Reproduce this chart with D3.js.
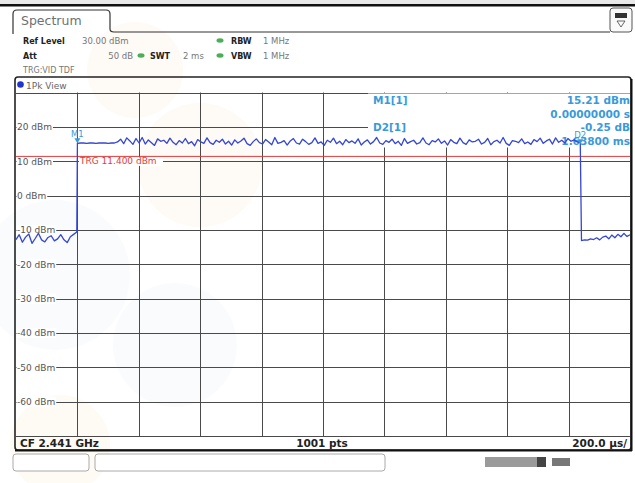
<!DOCTYPE html>
<html>
<head>
<meta charset="UTF-8">
<script src="https://d3js.org/d3.v7.min.js"></script>
<style>
 body { margin: 0; background: #fff; }
 svg text { font-family: "DejaVu Sans", sans-serif; }
 .mono { font-family: "DejaVu Sans Mono", monospace; font-weight: bold; }
</style>
</head>
<body>
<svg class="chart"></svg>
<script>

// level axis (dBm) and the grid labels
var refLevel = 30, bottomLevel = -70;
var yTicks = [20, 10, 0, -10, -20, -30, -40, -50, -60];
// time axis in microseconds, 200 us / div, trigger at 0
var timeStart = -200, timeEnd = 1800;

// trace, in dBm
var preTrigDbm = [-12.8, -11.4, -13.6, -12.1, -11.2, -13.9, -12.5, -11.0, -12.9, -13.5,
                  -12.2, -11.7, -13.2, -12.6, -11.4, -12.9, -13.7, -12.0, -11.3, -10.6];
var burstDbm = [15.2, 15.3, 15.3, 15.2, 15.3, 15.3, 15.2, 15.3, 15.3, 15.3, 15.2, 15.3, 15.3,
                15.6, 16.4, 15.1, 16.8, 15.9, 14.9, 16.6, 15.3, 16.9, 15.0, 16.2, 15.4, 14.6, 16.5, 15.8, 16.1, 15.2, 16.7,
                15.5, 14.8, 16.0, 15.3, 16.6, 15.1, 15.7, 14.5, 16.3, 15.6, 15.2, 16.8, 15.4, 14.9, 16.1, 15.5, 16.4, 15.0, 15.8, 14.7,
                16.2, 15.3, 15.9, 16.7, 15.1, 14.6, 15.7, 16.5, 15.4, 15.0, 16.3, 15.6, 14.8, 16.9, 15.2, 15.5, 16.0, 14.7, 15.9, 16.6,
                15.3, 15.0, 16.4, 15.7, 14.9, 15.4, 16.8, 15.2, 15.6, 14.6, 16.1, 15.5, 16.7, 15.1, 15.8, 14.8, 16.3, 15.4, 15.9, 15.2,
                16.5, 14.7, 15.6, 16.2, 15.0, 15.7, 16.9, 15.3, 14.9, 16.0, 15.5, 16.4, 15.1, 15.8, 14.6, 16.6, 15.2, 15.7, 16.1, 15.0,
                15.4, 16.8, 15.3, 14.8, 16.0, 15.6, 16.5, 15.2, 15.9, 14.7, 16.3, 15.5, 15.1, 16.7, 15.4, 14.9, 16.2, 15.6, 15.8, 16.4,
                15.0, 15.5, 16.6, 14.8, 15.7, 16.1, 15.3, 16.9, 15.2, 14.6, 16.0, 15.8, 15.4, 16.5, 15.1, 15.6, 14.9, 16.3, 15.7, 16.7,
                15.2, 15.9, 16.4, 15.0, 16.8, 15.5, 16.1, 15.3, 16.6, 15.8, 16.2, 15.6, 15.4];
var postDbm = [-13.1, -12.9, -13.0, -12.6, -12.8, -12.3, -12.9, -12.1, -11.8, -12.6,
               -11.5, -12.3, -11.3, -12.0, -11.0, -11.9, -11.4];
// segment spans (us)
var preSpan = [-200, -2], burstSpan = [0, 1638], postSpan = [1642, 1800];

// markers and trigger
var trgLevel = 11.4;
var m1 = {t: 0, v: 15.21};
var d2 = {t: 1638, v: 15.21 - 0.25};

var width = 635, height = 483;
var svg = d3.select(".chart").attr("width", width).attr("height", height);

var x = d3.scaleLinear().domain([timeStart, timeEnd]).range([16, 630]);
var y = d3.scaleLinear().domain([bottomLevel, refLevel]).range([436, 92.5]);

// top strip
svg.append("rect").attr("x", 0).attr("y", 0).attr("width", width).attr("height", 5).attr("fill", "#e9e9e9");
svg.append("rect").attr("x", 0).attr("y", 4).attr("width", width).attr("height", 2.5).attr("fill", "#111");

// faint watermark blobs behind everything
var blobs = [
  {cx: 200, cy: 165, r: 62, c: "#fbe6cc", o: 0.2},
  {cx: 135, cy: 70, r: 48, c: "#fbe6cc", o: 0.18},
  {cx: 55, cy: 275, r: 75, c: "#dfe3ef", o: 0.14},
  {cx: 175, cy: 345, r: 62, c: "#dfe3ef", o: 0.14},
  {cx: 60, cy: 445, r: 50, c: "#fbe6cc", o: 0.22}
];
svg.append("g").selectAll("circle").data(blobs).enter().append("circle")
   .attr("cx", function(d) { return d.cx; })
   .attr("cy", function(d) { return d.cy; })
   .attr("r", function(d) { return d.r; })
   .attr("fill", function(d) { return d.c; })
   .attr("opacity", function(d) { return d.o; });

// Spectrum tab
svg.append("path")
   .attr("d", "M13,34 L13,14 Q13,10 17,10 L106,10 Q110,10 110,14 L110,29 Q110,32 114,32 L610,32")
   .attr("fill", "none").attr("stroke", "#333").attr("stroke-width", 1.2);
svg.append("text").attr("x", 21).attr("y", 25).attr("font-size", 12.5).attr("fill", "#707070").text("Spectrum");

// small icon top right
svg.append("rect").attr("x", 610).attr("y", 8).attr("width", 22).attr("height", 24).attr("rx", 3)
   .attr("fill", "#fafafa").attr("stroke", "#555").attr("stroke-width", 1);
svg.append("rect").attr("x", 615).attr("y", 13).attr("width", 12).attr("height", 5).attr("fill", "#333");
svg.append("path").attr("d", "M617,21 L625,21 L621,27 Z").attr("fill", "none").attr("stroke", "#444").attr("stroke-width", 0.8);

// header settings
var hdr = svg.append("g").attr("font-size", 8.5);
hdr.append("text").attr("x", 23).attr("y", 43.5).attr("font-weight", "bold").attr("fill", "#222").attr("font-size", 8).text("Ref Level");
hdr.append("text").attr("x", 82).attr("y", 43.5).attr("fill", "#777").text("30.00 dBm");
hdr.append("text").attr("x", 23).attr("y", 58.5).attr("font-weight", "bold").attr("fill", "#222").attr("font-size", 8).text("Att");
hdr.append("text").attr("x", 133).attr("y", 58.5).attr("text-anchor", "end").attr("fill", "#777").text("50 dB");
hdr.append("text").attr("x", 150).attr("y", 58.5).attr("font-weight", "bold").attr("fill", "#222").attr("font-size", 8).text("SWT");
hdr.append("text").attr("x", 183).attr("y", 58.5).attr("fill", "#777").text("2 ms");
hdr.append("text").attr("x", 231).attr("y", 43.5).attr("font-weight", "bold").attr("fill", "#222").attr("font-size", 8).text("RBW");
hdr.append("text").attr("x", 263).attr("y", 43.5).attr("fill", "#777").text("1 MHz");
hdr.append("text").attr("x", 231).attr("y", 58.5).attr("font-weight", "bold").attr("fill", "#222").attr("font-size", 8).text("VBW");
hdr.append("text").attr("x", 263).attr("y", 58.5).attr("fill", "#777").text("1 MHz");
hdr.append("text").attr("x", 23).attr("y", 73).attr("fill", "#777").attr("font-size", 8).text("TRG:VID TDF");
[[141, 55.5], [220, 40.5], [220, 55.5]].forEach(function(p) {
  hdr.append("ellipse").attr("cx", p[0]).attr("cy", p[1]).attr("rx", 3.5).attr("ry", 2.2).attr("fill", "#4cae58");
});

// plot frame
svg.append("rect").attr("x", 15).attr("y", 77).attr("width", 616).attr("height", 373).attr("rx", 3)
   .attr("fill", "none").attr("stroke", "#222").attr("stroke-width", 1.6);
svg.append("line").attr("x1", 631.5).attr("x2", 631.5).attr("y1", 79).attr("y2", 451).attr("stroke", "#111").attr("stroke-width", 2);
svg.append("line").attr("x1", 15).attr("x2", 632).attr("y1", 450.5).attr("y2", 450.5).attr("stroke", "#111").attr("stroke-width", 2);
svg.append("circle").attr("cx", 20.5).attr("cy", 84.5).attr("r", 3.3).attr("fill", "#2233cc");
svg.append("text").attr("x", 26).attr("y", 88.5).attr("font-size", 9).attr("fill", "#666").text("1Pk View");

// grid
var grid = svg.append("g").attr("stroke", "#4a4a4a").attr("stroke-width", 1);
grid.selectAll(".h").data(y.ticks(10)).enter().append("line")
    .attr("x1", x(timeStart)).attr("x2", x(timeEnd))
    .attr("y1", function(d) { return Math.round(y(d)) + 0.5; })
    .attr("y2", function(d) { return Math.round(y(d)) + 0.5; });
grid.selectAll(".v").data(x.ticks(10).filter(function(d) { return d > timeStart && d < timeEnd; })).enter().append("line")
    .attr("y1", y(refLevel)).attr("y2", y(bottomLevel))
    .attr("x1", function(d) { return Math.round(x(d)) + 0.5; })
    .attr("x2", function(d) { return Math.round(x(d)) + 0.5; });

// level labels with white backing
var ylab = svg.append("g").attr("font-size", 9).attr("fill", "#555");
yTicks.forEach(function(v) {
  var t = ylab.append("text").attr("x", 17).attr("y", y(v) + 3.5).text(v + " dBm");
  var w = t.node().getComputedTextLength();
  ylab.insert("rect", "text").attr("x", 16.5).attr("y", y(v) - 5).attr("width", w + 1.5).attr("height", 10).attr("fill", "#fff");
});

// marker info area (hides the grid behind it)
svg.append("rect").attr("x", 368).attr("y", 93.5).attr("width", 262).attr("height", 54).attr("fill", "#fff");
var info = svg.append("g").attr("class", "mono").attr("font-size", 10.5).attr("fill", "#3a9ad9");
info.append("text").attr("x", 373).attr("y", 104).text("M1[1]");
info.append("text").attr("x", 630).attr("y", 104).attr("text-anchor", "end").text(m1.v.toFixed(2) + " dBm");
info.append("text").attr("x", 630).attr("y", 117.5).attr("text-anchor", "end").text((m1.t / 1e6).toFixed(8) + " s");
info.append("text").attr("x", 373).attr("y", 131).text("D2[1]");
info.append("text").attr("x", 630).attr("y", 131).attr("text-anchor", "end").text((d2.v - m1.v).toFixed(2) + " dB");
info.append("text").attr("x", 630).attr("y", 144.5).attr("text-anchor", "end").text(((d2.t - m1.t) / 1000).toFixed(5) + " ms");

// trigger line and label
svg.append("line").attr("x1", x(timeStart)).attr("x2", x(timeEnd))
   .attr("y1", y(trgLevel)).attr("y2", y(trgLevel)).attr("stroke", "#e03c3c").attr("stroke-width", 1);
svg.append("rect").attr("x", 79).attr("y", y(trgLevel) + 1).attr("width", 84).attr("height", 8.5).attr("fill", "#fff");
svg.append("text").attr("x", 80).attr("y", y(trgLevel) + 8).attr("font-size", 9).attr("fill", "#e03c3c").text("TRG  11.400 dBm");

// trace
function spread(vals, span) {
  var step = (span[1] - span[0]) / (vals.length - 1);
  return vals.map(function(v, i) { return {t: span[0] + i * step, v: v}; });
}
var trace = spread(preTrigDbm, preSpan).concat(spread(burstDbm, burstSpan), spread(postDbm, postSpan));
var line = d3.line().x(function(d) { return x(d.t); }).y(function(d) { return y(d.v); });
svg.append("path").datum(trace).attr("d", line)
   .attr("fill", "none").attr("stroke", "#3446d4").attr("stroke-width", 1.3).attr("stroke-linejoin", "round");

// markers
var mk = svg.append("g").attr("fill", "#3a9ad9");
[{p: m1, name: "M1"}, {p: d2, name: "D2"}].forEach(function(m) {
  var cx = x(m.p.t), cy = y(m.p.v);
  mk.append("path").attr("d", "M" + (cx - 3) + "," + (cy - 5) + " L" + (cx + 3) + "," + (cy - 5) + " L" + cx + "," + (cy) + " Z");
  mk.append("text").attr("x", cx).attr("y", cy - 6).attr("text-anchor", "middle").attr("font-size", 8.5).text(m.name);
});

// footer
var ft = svg.append("g").attr("class", "mono").attr("font-size", 10.5).attr("fill", "#222");
ft.append("text").attr("x", 20).attr("y", 447).text("CF 2.441 GHz");
ft.append("text").attr("x", 322).attr("y", 447).attr("text-anchor", "middle").text("1001 pts");
ft.append("text").attr("x", 627).attr("y", 447).attr("text-anchor", "end").text((timeEnd - timeStart) / 10 + ".0 \u00b5s/");

// status boxes under the frame
svg.append("rect").attr("x", 13).attr("y", 454).attr("width", 76).attr("height", 17).attr("rx", 3)
   .attr("fill", "#fff").attr("stroke", "#aaa");
svg.append("rect").attr("x", 95).attr("y", 454).attr("width", 290).attr("height", 17).attr("rx", 3)
   .attr("fill", "#fff").attr("stroke", "#aaa");
svg.append("rect").attr("x", 485).attr("y", 457).attr("width", 52).attr("height", 10).attr("fill", "#9a9a9a");
svg.append("rect").attr("x", 537).attr("y", 457).attr("width", 9).attr("height", 10).attr("fill", "#444");
svg.append("rect").attr("x", 552).attr("y", 458).attr("width", 18).attr("height", 8).attr("fill", "#777");

</script>
</body>
</html>
